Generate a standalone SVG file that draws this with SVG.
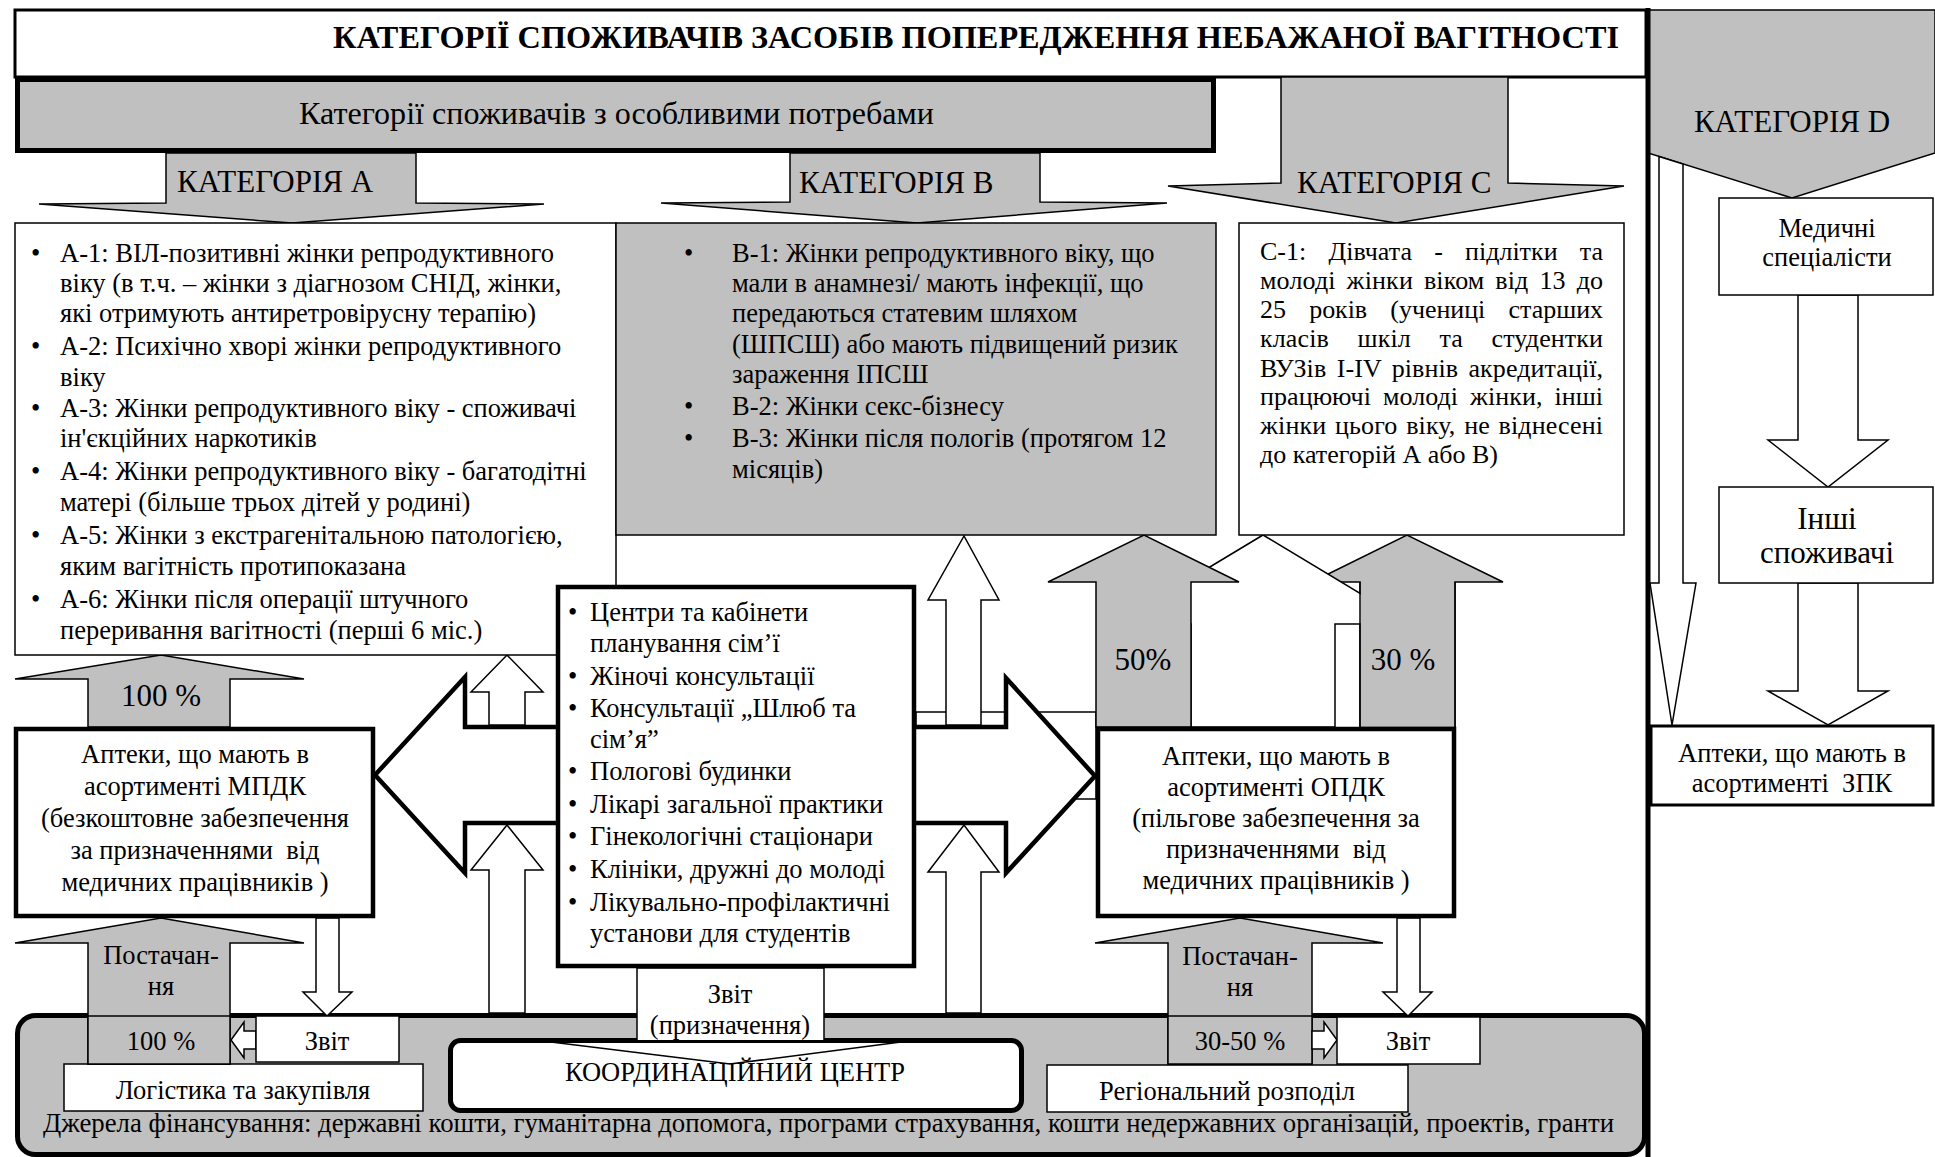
<svg xmlns="http://www.w3.org/2000/svg" width="1935" height="1157" viewBox="0 0 1935 1157">
<style>
text{font-family:'Liberation Serif','Times New Roman',serif;font-size:26.5px;fill:#000}
.m{text-anchor:middle}
.e{text-anchor:end}
.b{font-weight:bold}
.f31{font-size:31px}
.c26{font-size:26px}
.g{fill:#c0c0c0;stroke:#000;stroke-width:1.5}
.w{fill:#fff;stroke:#000;stroke-width:1.5}
.k{fill:#fff;stroke:#000;stroke-width:4.5}
.ln{stroke:#000;stroke-width:1.5;fill:none}
</style>
<rect width="1935" height="1157" fill="#fff"/>

<g id="title">
<rect x="15" y="10" width="1631" height="67" fill="#fff" stroke="#000" stroke-width="3"/>
<text class="b f31" x="333" y="48" textLength="1286" lengthAdjust="spacingAndGlyphs">КАТЕГОРІЇ СПОЖИВАЧІВ ЗАСОБІВ ПОПЕРЕДЖЕННЯ НЕБАЖАНОЇ ВАГІТНОСТІ</text>
</g>

<g id="header">
<rect x="17.5" y="79.5" width="1196" height="71" fill="#c0c0c0" stroke="#000" stroke-width="5"/>
<text class="f31" x="299" y="124" textLength="635" lengthAdjust="spacingAndGlyphs">Категорії споживачів з особливими потребами</text>
</g>

<g id="category-d">
<polygon class="g" points="1648,10 1935,10 1935,153 1792,198 1648,153"/>
<text class="f31 m" x="1792" y="132">КАТЕГОРІЯ D</text>
</g>

<g id="funding">
<rect x="17.5" y="1015.5" width="1627" height="139" rx="18" fill="#c0c0c0" stroke="#000" stroke-width="5"/>
<text x="43" y="1132" textLength="1571" lengthAdjust="spacingAndGlyphs">Джерела фінансування: державні кошти, гуманітарна допомога, програми страхування, кошти недержавних організацій, проектів, гранти</text>
</g>

<g id="coordination">
<rect x="450.5" y="1040.5" width="571" height="70" rx="10" fill="#fff" stroke="#000" stroke-width="5"/>
<text class="m" x="735" y="1081">КООРДИНАЦІЙНИЙ ЦЕНТР</text>
</g>

<g id="logistics">
<rect class="w" x="64" y="1064" width="359" height="47"/>
<text class="m" x="243" y="1099">Логістика та закупівля</text>
</g>

<g id="regional">
<rect class="w" x="1047" y="1065" width="361" height="47"/>
<text class="m" x="1227" y="1100">Регіональний розподіл</text>
</g>

<g id="connectors">
<polygon class="g" points="166,153 416,153 416,203 544,204 292,223 39,204 166,203"/>
<polygon class="g" points="790,153 1040,153 1040,202 1167,203 917,223 661,203 790,202"/>
<polygon class="g" points="1281,77 1508,77 1508,183 1624,186 1396,223 1168,186 1281,183"/>
<text class="f31" x="177" y="192">КАТЕГОРІЯ А</text>
<text class="f31" x="799" y="193">КАТЕГОРІЯ В</text>
<text class="f31" x="1297" y="193">КАТЕГОРІЯ С</text>

<polygon class="w" points="1659,156.5 1683,164 1683,583 1696,583 1672,725 1650,583 1659,583"/>
<polygon class="w" points="1798,295 1858,295 1858,440 1888,440 1828,487 1768,440 1798,440"/>
<polygon class="w" points="1798,583 1858,583 1858,691 1888,691 1828,725 1768,691 1798,691"/>

<rect class="w" x="916" y="712" width="180" height="87"/>
<polygon class="k" points="375,775 465,677 465,727 1006,727 1006,678 1095,776 1006,873 1006,823 465,823 465,873"/>

<polygon class="w" points="489,725 489,692 471,692 507,655 543,692 525,692 525,725"/>
<polygon class="w" points="489,1013 489,870 471,870 507,825 543,870 525,870 525,1013"/>
<polygon class="w" points="946,725 946,600 928,600 964,536 999,600 981,600 981,725"/>
<polygon class="w" points="946,1013 946,872 928,872 964,825 999,872 981,872 981,1013"/>

<polygon class="g" points="1360,727 1360,582 1312,582 1407,535 1503,582 1455,582 1455,727"/>
<polygon class="w" points="1191,727 1191,624 1115,624 1263,535 1411,624 1335,624 1335,727"/>
<polygon class="g" points="1096,727 1096,582 1048,582 1144,535 1239,582 1191,582 1191,727"/>
<rect x="1360.75" y="582.75" width="93.5" height="144" fill="#c0c0c0"/>
<line class="ln" x1="1360" y1="582" x2="1360" y2="727"/>
<line class="ln" x1="1455" y1="582" x2="1455" y2="727"/>
<text class="f31 m" x="1143" y="670">50%</text>
<text class="f31 m" x="1403" y="670">30 %</text>

<polygon class="g" points="88,727 88,679 15,679 161,655 304,679 230,679 230,727"/>
<text class="f31 m" x="161" y="706">100 %</text>

<polygon class="g" points="88,1064 88,943 15,943 161,918 304,943 230,943 230,1064"/>
<rect class="g" x="88" y="1016" width="142" height="48"/>
<polygon class="g" points="1168,1064 1168,943 1095,943 1240,918 1383,943 1312,943 1312,1064"/>
<rect class="g" x="1168" y="1016" width="144" height="48"/>
<text class="m" x="161" y="964">Постачан-</text>
<text class="m" x="161" y="995">ня</text>
<text class="m" x="161" y="1050">100 %</text>
<text class="m" x="1240" y="965">Постачан-</text>
<text class="m" x="1240" y="996">ня</text>
<text class="m" x="1240" y="1050">30-50 %</text>

<polygon class="w" points="316,918 339,918 339,992 352,992 327,1016 303,992 316,992"/>
<polygon class="w" points="1397,918 1420,918 1420,992 1432,992 1408,1016 1383,992 1397,992"/>
<polygon class="w" points="256,1031 244,1031 244,1022 231,1040 244,1058 244,1049 256,1049"/>
<polygon class="w" points="1312,1031 1324,1031 1324,1022 1337,1040 1324,1058 1324,1049 1312,1049"/>

<path class="w" d="M637,1040 V968 H824 V1040"/>
<polyline class="ln" points="551,1042 730,1064 901,1042"/>
<text class="m" x="730" y="1003">Звіт</text>
<text class="m" x="730" y="1034">(призначення)</text>
</g>

<g id="cat-a-box">
<rect class="w" x="15" y="223" width="601" height="432"/>
<text x="31" y="262">•</text><text x="60" y="262">А-1: ВІЛ-позитивні жінки репродуктивного</text>
<text x="60" y="292">віку (в т.ч. – жінки з діагнозом СНІД, жінки,</text>
<text x="60" y="322">які отримують антиретровірусну терапію)</text>
<text x="31" y="355">•</text><text x="60" y="355">А-2: Психічно хворі жінки репродуктивного</text>
<text x="60" y="386">віку</text>
<text x="31" y="417">•</text><text x="60" y="417">А-3: Жінки репродуктивного віку - споживачі</text>
<text x="60" y="447">ін'єкційних наркотиків</text>
<text x="31" y="480">•</text><text x="60" y="480">А-4: Жінки репродуктивного віку - багатодітні</text>
<text x="60" y="511">матері (більше трьох дітей у родині)</text>
<text x="31" y="544">•</text><text x="60" y="544">А-5: Жінки з екстрагенітальною патологією,</text>
<text x="60" y="575">яким вагітність протипоказана</text>
<text x="31" y="608">•</text><text x="60" y="608">А-6: Жінки після операції штучного</text>
<text x="60" y="639">переривання вагітності (перші 6 міс.)</text>
</g>

<g id="cat-b-box">
<rect class="g" x="616" y="223" width="600" height="312"/>
<text x="684" y="262">•</text><text x="732" y="262">В-1: Жінки репродуктивного віку, що</text>
<text x="732" y="292">мали в анамнезі/ мають інфекції, що</text>
<text x="732" y="322">передаються статевим шляхом</text>
<text x="732" y="353">(ШПСШ) або мають підвищений ризик</text>
<text x="732" y="383">зараження ІПСШ</text>
<text x="684" y="415">•</text><text x="732" y="415">В-2: Жінки секс-бізнесу</text>
<text x="684" y="447">•</text><text x="732" y="447">В-3: Жінки після пологів (протягом 12</text>
<text x="732" y="478">місяців)</text>
</g>

<g id="cat-c-box">
<rect class="w" x="1239" y="223" width="385" height="312"/>
<text class="c26" x="1260" y="260" word-spacing="15.7" textLength="343" lengthAdjust="spacing">С-1: Дівчата - підлітки та</text>
<text class="c26" x="1260" y="289" word-spacing="4.3" textLength="343" lengthAdjust="spacing">молоді жінки віком від 13 до</text>
<text class="c26" x="1260" y="318" word-spacing="16.8" textLength="343" lengthAdjust="spacing">25 років (учениці старших</text>
<text class="c26" x="1260" y="347" word-spacing="22" textLength="343" lengthAdjust="spacing">класів шкіл та студентки</text>
<text class="c26" x="1260" y="377" word-spacing="3.8" textLength="343" lengthAdjust="spacing">ВУЗів I-IV рівнів акредитації,</text>
<text class="c26" x="1260" y="405" word-spacing="5.3" textLength="343" lengthAdjust="spacing">працюючі молоді жінки, інші</text>
<text class="c26" x="1260" y="434" word-spacing="2.1" textLength="343" lengthAdjust="spacing">жінки цього віку, не віднесені</text>
<text class="c26" x="1260" y="463">до категорій А або В)</text>
</g>

<g id="service-points">
<rect class="k" x="558" y="587" width="356" height="379"/>
<text x="568" y="621">•</text><text x="590" y="621">Центри та кабінети</text>
<text x="590" y="652">планування сім’ї</text>
<text x="568" y="685">•</text><text x="590" y="685">Жіночі консультації</text>
<text x="568" y="717">•</text><text x="590" y="717">Консультації „Шлюб та</text>
<text x="590" y="748">сім’я”</text>
<text x="568" y="780">•</text><text x="590" y="780">Пологові будинки</text>
<text x="568" y="813">•</text><text x="590" y="813">Лікарі загальної практики</text>
<text x="568" y="845">•</text><text x="590" y="845">Гінекологічні стаціонари</text>
<text x="568" y="878">•</text><text x="590" y="878">Клініки, дружні до молоді</text>
<text x="568" y="911">•</text><text x="590" y="911">Лікувально-профілактичні</text>
<text x="590" y="942">установи для студентів</text>
</g>

<g id="pharm-mpdk">
<rect class="k" x="16" y="729" width="357" height="187"/>
<text class="m" x="195" y="763">Аптеки, що мають в</text>
<text class="m" x="195" y="795">асортименті МПДК</text>
<text class="m" x="195" y="827">(безкоштовне забезпечення</text>
<text class="m" x="195" y="859">за призначеннями&#160; від</text>
<text class="m" x="195" y="891">медичних працівників )</text>
</g>

<g id="pharm-opdk">
<rect class="k" x="1098" y="729" width="356" height="187"/>
<text class="m" x="1276" y="765">Аптеки, що мають в</text>
<text class="m" x="1276" y="796">асортименті ОПДК</text>
<text class="m" x="1276" y="827">(пільгове забезпечення за</text>
<text class="m" x="1276" y="858">призначеннями&#160; від</text>
<text class="m" x="1276" y="889">медичних працівників )</text>
</g>

<g id="report-left">
<rect class="w" x="256" y="1016" width="143" height="46"/>
<text class="m" x="327" y="1050">Звіт</text>
</g>

<g id="report-right">
<rect class="w" x="1337" y="1017" width="143" height="47"/>
<text class="m" x="1408" y="1050">Звіт</text>
</g>

<g id="medical">
<rect class="w" x="1719" y="198" width="214" height="97"/>
<text class="m" x="1827" y="237">Медичні</text>
<text class="m" x="1827" y="266">спеціалісти</text>
</g>

<g id="other-consumers">
<rect class="w" x="1719" y="487" width="214" height="96"/>
<text class="m f31" x="1827" y="529">Інші</text>
<text class="m f31" x="1827" y="563">споживачі</text>
</g>

<g id="pharm-zpk">
<rect x="1651" y="726" width="282" height="79" fill="#fff" stroke="#000" stroke-width="3"/>
<text class="m" x="1792" y="762">Аптеки, що мають в</text>
<text class="m" x="1792" y="792">асортименті&#160; ЗПК</text>
</g>

<g id="divider">
<line x1="1648" y1="8" x2="1648" y2="1157" stroke="#000" stroke-width="5"/>
</g>
</svg>
